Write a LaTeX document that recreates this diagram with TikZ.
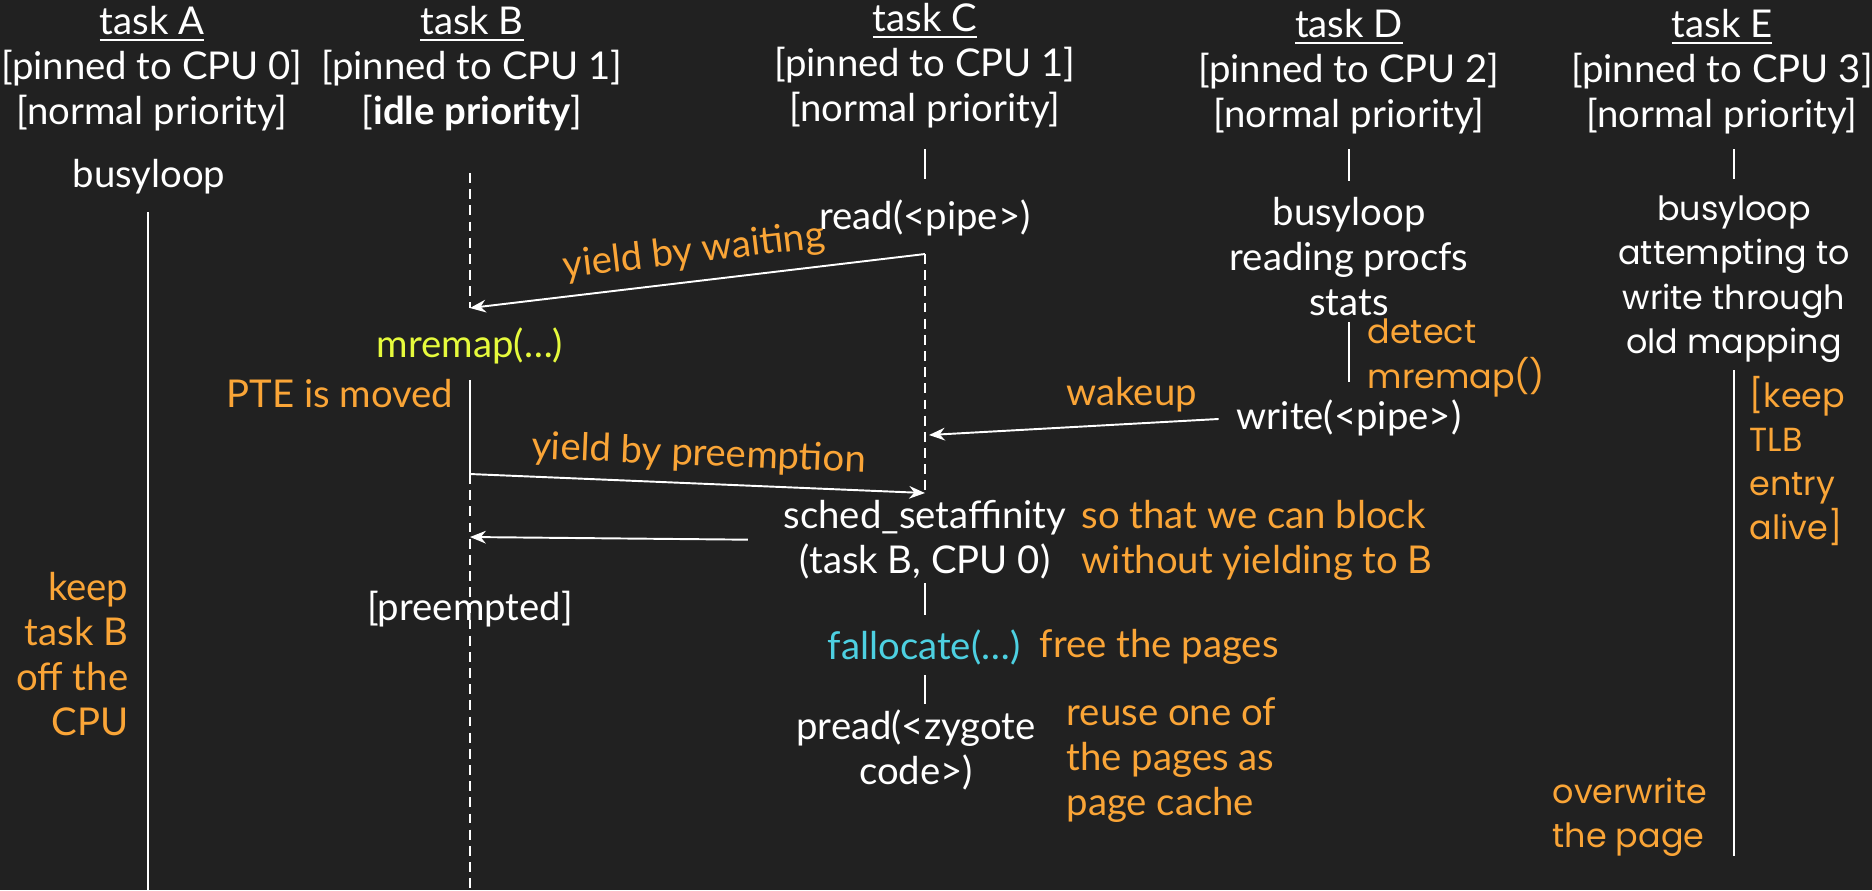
\documentclass[tikz,border=0pt]{standalone}
\usepackage{fontspec}
\setmainfont{Lato}
\newfontfamily\wideface{Poppins}
\usetikzlibrary{arrows.meta}
\definecolor{bgcol}{RGB}{33,33,33}
\definecolor{notecol}{RGB}{250,165,55}
\definecolor{callcol}{RGB}{230,250,60}
\definecolor{freecol}{RGB}{77,208,225}
\begin{document}
\begin{tikzpicture}[x=0.1mm, y=0.1mm,
  every node/.style={inner sep=0pt, text=white, font=\fontsize{10.9}{12.8}\selectfont},
  life/.style={white, line width=0.55pt},
  idle/.style={life, dash pattern=on 2.8pt off 1.8pt},
  msg/.style={white, line width=0.55pt, -{Stealth[length=4.5pt,width=3.6pt]}},
  note/.style={text=notecol},
  wide/.style={font=\wideface\fontsize{9.5}{12.6}\selectfont}]
\useasboundingbox (0,0) rectangle (1872,-890);
\fill [bgcol] (0,0) rectangle (1872,-890);
\node [align=center] (hdrA) at (152,-69) {\underline{task A}\\{[}pinned to CPU 0]\\{[}normal priority]};
\node [align=center] (hdrB) at (472,-69) {\underline{task B}\\{[}pinned to CPU 1]\\{[}\textbf{idle priority}]};
\node [align=center] (hdrC) at (925,-66) {\underline{task C}\\{[}pinned to CPU 1]\\{[}normal priority]};
\node [align=center] (hdrD) at (1349,-72) {\underline{task D}\\{[}pinned to CPU 2]\\{[}normal priority]};
\node [align=center] (hdrE) at (1722,-72) {\underline{task E}\\{[}pinned to CPU 3]\\{[}normal priority]};
\node (busyA) at (149,-177) {busyloop};
\coordinate (A0) at (148,-212);
\coordinate (A1) at (148,-890);
\draw [life] (A0) -- (A1);
\node [note, anchor=east, align=right] (keepB) at (129,-654) {keep\\task B\\off the\\CPU};
\coordinate (B0) at (470,-173);
\coordinate (B1) at (470,-308);
\coordinate (B2) at (470,-380);
\coordinate (B3) at (470,-474);
\coordinate (B4) at (470,-537);
\coordinate (B5) at (470,-890);
\node [text=callcol] (mremap) at (470,-346) {mremap(…)};
\node [note, anchor=east] (pte) at (454,-394) {PTE is moved};
\node (preempt) at (470,-609) {[preempted]};
\draw [idle] (B0) -- (B1);
\draw [life] (B2) -- (B3);
\draw [idle] (B3) -- (B5);
\coordinate (C0) at (925,-149);
\coordinate (C1) at (925,-179);
\coordinate (C2) at (925,-254);
\coordinate (C3) at (925,-493);
\coordinate (C4) at (925,-583);
\coordinate (C5) at (925,-615);
\coordinate (C6) at (925,-675);
\coordinate (C7) at (925,-704);
\coordinate (Cw) at (929,-435);
\node (read) at (925,-218) {read(<pipe>)};
\node [align=center] (sched) at (925,-540) {sched\_setaffinity\\(task B, CPU 0)};
\node [text=freecol] (falloc) at (924,-647) {fallocate(…)};
\node [align=center] (pread) at (916,-750) {pread(<zygote\\code>)};
\draw [life] (C0) -- (C1);
\draw [idle] (C2) -- (C3);
\draw [life] (C4) -- (C5);
\draw [life] (C6) -- (C7);
\node [note, anchor=west, align=left] (block) at (1081,-540) {so that we can block\\without yielding to B};
\node [note, anchor=west] (freenote) at (1039,-647) {free the pages};
\node [note, anchor=west, align=left] (reuse) at (1066,-760) {reuse one of\\the pages as\\page cache};
\coordinate (D0) at (1349,-149);
\coordinate (D1) at (1349,-181);
\coordinate (D2) at (1349,-322);
\coordinate (D3) at (1349,-382);
\node [align=center] (busyD) at (1349,-257) {busyloop\\reading procfs\\stats};
\node [note, wide, anchor=west, align=left] (detect) at (1367,-358) {detect\\mremap()};
\node (write) at (1349,-418) {write(<pipe>)};
\draw [life] (D0) -- (D1);
\draw [life] (D2) -- (D3);
\coordinate (E0) at (1734,-149);
\coordinate (E1) at (1734,-179);
\coordinate (E2) at (1734,-370);
\coordinate (E3) at (1734,-856);
\node [wide, align=center] (busyE) at (1734,-279) {busyloop\\attempting to\\write through\\old mapping};
\node [note, wide, anchor=west, align=left] (tlb) at (1749,-461) {[keep\\TLB\\entry\\alive]};
\node [note, wide, anchor=west, align=left] (overw) at (1552,-817) {overwrite\\the page};
\draw [life] (E0) -- (E1);
\draw [life] (E2) -- (E3);
\draw [msg] (C2) -- (B1) node [note, midway, sloped, above=3pt] {yield by waiting};
\draw [msg, shorten <=5pt] (write.west) -- (Cw) node [note, pos=0.34, above=3pt] {wakeup};
\draw [msg] (B3) -- (C3) node [note, midway, sloped, above=3pt] {yield by preemption};
\draw [msg, shorten <=10pt] (sched.west) -- (B4);
\end{tikzpicture}
\end{document}
